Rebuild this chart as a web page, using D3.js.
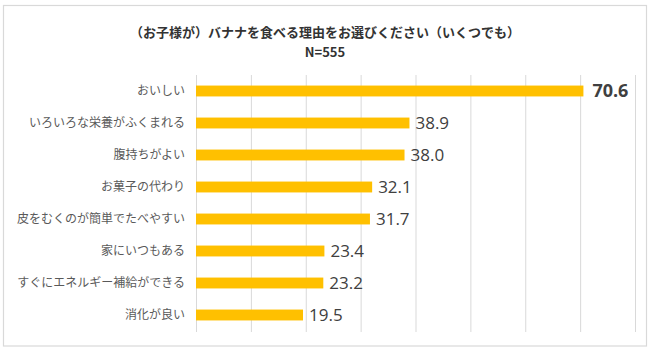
<!DOCTYPE html>
<html><head><meta charset="utf-8">
<script src="https://cdn.jsdelivr.net/npm/d3@7/dist/d3.min.js"></script>
<style>body{margin:0;background:#fff}svg{display:block}</style>
</head><body><svg id="c" width="650" height="350"></svg>
<script>
const categories = ["おいしい","いろいろな栄養がふくまれる","腹持ちがよい","お菓子の代わり","皮をむくのが簡単でたべやすい","家にいつもある","すぐにエネルギー補給ができる","消化が良い"];
const values = [70.6,38.9,38.0,32.1,31.7,23.4,23.2,19.5];
const gridTicks = [0,10,20,30,40,50,60,70,80];
const title = "（お子様が）バナナを食べる理由をお選びください（いくつでも）";
const subtitle = "N=555";

const svg = d3.select("#c");
svg.append("rect").attr("x",3.5).attr("y",5.5).attr("width",643).attr("height",340.5)
  .attr("fill","#fff").attr("stroke","#d9d9d9").attr("stroke-width",1.2);

const x = d3.scaleLinear().domain([0,80]).range([196,635]);
const y = d3.scaleBand().domain(categories).range([75,331]).paddingInner(0.66).paddingOuter(0.33);

svg.append("g").selectAll("line").data(gridTicks).join("line")
  .attr("x1",d=>x(d)+0.5).attr("x2",d=>x(d)+0.5).attr("y1",75).attr("y2",332)
  .attr("stroke","#d9d9d9").attr("stroke-width",1);

svg.append("g").selectAll("rect").data(values).join("rect")
  .attr("x",x(0)).attr("y",(d,i)=>y(categories[i]))
  .attr("width",d=>x(d)-x(0)).attr("height",y.bandwidth())
  .attr("fill","#FFC000");

const yAxis = d3.axisLeft(y).tickSize(0).tickPadding(11);
const ga = svg.append("g").attr("transform",`translate(${x(0)},0)`).call(yAxis);
ga.select(".domain").remove();
ga.selectAll("text").attr("font-family","'Noto Sans CJK JP'").attr("font-size",12).attr("fill","#595959");

svg.append("g").selectAll("text").data(values).join("text")
  .attr("x",d=>x(d)+(d>60?9:6)).attr("y",(d,i)=>y(categories[i])+y.bandwidth()/2+1)
  .attr("dominant-baseline","middle")
  .attr("font-family","'Open Sans', 'Noto Sans', sans-serif")
  .attr("font-size",(d,i)=>i===0?18:17)
  .attr("font-weight",(d,i)=>i===0?"bold":"normal")
  .attr("fill","#404040")
  .text(d=>d.toFixed(1));

svg.append("text").attr("x",325).attr("y",33).attr("text-anchor","middle").attr("dominant-baseline","middle")
  .attr("font-family","'Noto Sans CJK JP'").attr("font-size",13).attr("font-weight","bold").attr("fill","#333")
  .text(title);
svg.append("text").attr("x",325).attr("y",53).attr("text-anchor","middle").attr("dominant-baseline","middle")
  .attr("font-family","'Noto Sans CJK JP'").attr("font-size",13).attr("font-weight","bold").attr("fill","#333")
  .text(subtitle);
</script></body></html>
